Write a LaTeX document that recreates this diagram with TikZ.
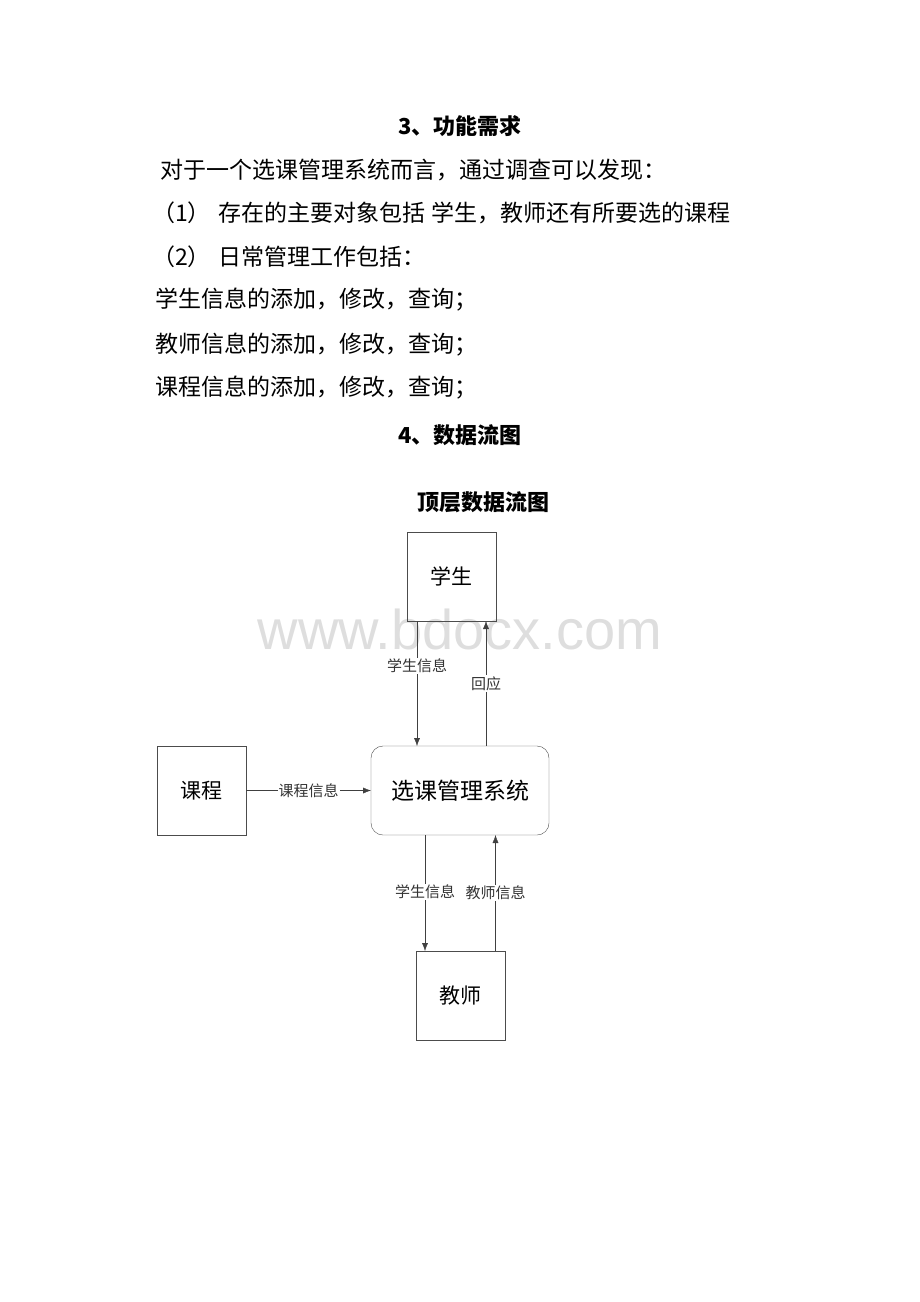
\documentclass[tikz,border=0pt]{standalone}
\usepackage{fontspec}
\setmainfont{Noto Sans CJK SC}
\newfontfamily\wmfont{Liberation Sans}
\usetikzlibrary{arrows.meta}

\begin{document}
\begin{tikzpicture}[x=1pt,y=-1pt,
  every node/.style={inner sep=0pt, outer sep=0pt},
  body/.style={anchor=west, font=\fontsize{23}{23}\selectfont},
  head/.style={font=\fontsize{22}{22}\selectfont\bfseries},
  entity/.style={draw=black!70, minimum size=89pt, font=\fontsize{21}{21}\selectfont},
  proc/.style={draw=black!70, rounded corners=12pt, minimum width=178pt, minimum height=89pt, font=\fontsize{23}{23}\selectfont},
  flow/.style={fill=white, inner sep=1pt, font=\fontsize{15}{15}\selectfont, text=black!80},
  flowline/.style={draw=black!75, -{Latex[length=8pt,width=6pt]}}]
\useasboundingbox (0,0) rectangle (920,1302);

% text above the diagram
\node[head] (h3) at (460,126) {3、功能需求};
\node[body] (l1) at (160,170) {对于一个选课管理系统而言，通过调查可以发现：};
\node[body] (l2) at (152,213) {（1）\hspace{8pt}存在的主要对象包括\hspace{6pt}学生，教师还有所要选的课程};
\node[body] (l3) at (152,257) {（2）\hspace{8pt}日常管理工作包括：};
\node[body] (l4) at (155,300) {学生信息的添加，修改，查询；};
\node[body] (l5) at (155,345) {教师信息的添加，修改，查询；};
\node[body] (l6) at (155,388) {课程信息的添加，修改，查询；};
\node[head] (h4) at (460,435) {4、数据流图};
\node[head] (top) at (483,502) {顶层数据流图};

% watermark
\node[text=black!13, text depth=0pt, font=\wmfont\fontsize{56}{56}\selectfont] (wm) at (460,629) {www.bdocx.com};

% the data flow diagram
\node[entity] (stu) at (451.5,576.5) {学生};
\node[entity] (crs) at (201.5,790.5) {课程};
\node[proc] (sys) at (460,790.5) {选课管理系统};
\node[entity] (tch) at (460.5,995.5) {教师};

\draw[flowline] ([xshift=-34.5pt]stu.south) -- ([xshift=-34.5pt]stu.south |- sys.north)
  node[flow, pos=0.36] (f1) {学生信息};
\draw[flowline] ([xshift=26pt]sys.north) -- ([xshift=26pt]sys.north |- stu.south)
  node[flow, pos=0.5] (f2) {回应};
\draw[flowline] (crs.east) -- (sys.west)
  node[flow, pos=0.5] (f3) {课程信息};
\draw[flowline] ([xshift=-35pt]sys.south) -- ([xshift=-35pt]sys.south |- tch.north)
  node[flow, pos=0.49] (f4) {学生信息};
\draw[flowline] ([xshift=35pt]tch.north) -- ([xshift=35pt]tch.north |- sys.south)
  node[flow, pos=0.5] (f5) {教师信息};
\end{tikzpicture}
\end{document}
